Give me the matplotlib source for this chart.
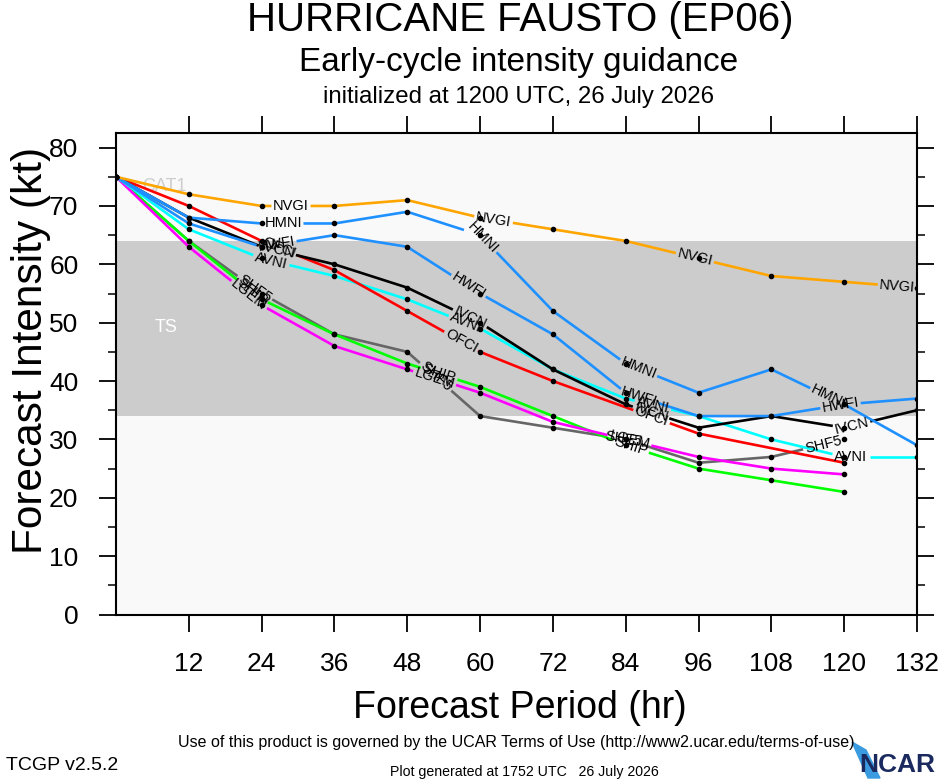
"""
Early-cycle intensity guidance plot (TCGP style)
"""

import numpy as np
import matplotlib
matplotlib.use('Agg')
import matplotlib.pyplot as plt
from matplotlib.patches import Polygon
from matplotlib.textpath import TextPath
from matplotlib.font_manager import FontProperties

plt.rcParams['font.family'] = ['Liberation Sans', 'DejaVu Sans']

# forecast hours
HOURS = [0, 12, 24, 36, 48, 60, 72, 84, 96, 108, 120, 132]
HOURS_120 = [0, 12, 24, 36, 48, 60, 72, 84, 96, 108, 120]
HOURS_OFCI = [0, 12, 24, 36, 48, 60, 72, 96, 120]

# intensities (kt)
NVGI = [75, 72, 70, 70, 71, 68, 66, 64, 61, 58, 57, 56]
HMNI = [75, 68, 67, 67, 69, 65, 52, 43, 38, 42, 36, 29]
HWFI = [75, 67, 63, 65, 63, 55, 48, 38, 34, 34, 36, 37]
IVCN = [75, 68, 63, 60, 56, 50, 42, 36, 32, 34, 32, 35]
AVNI = [75, 66, 61, 58, 54, 49, 42, 37, 34, 30, 27, 27]
OFCI = [75, 70, 64, 59, 52, 45, 40, 31, 26]
SHF5 = [75, 64, 55, 48, 45, 34, 32, 30, 26, 27, 30]
SHIP = [75, 64, 54, 48, 43, 39, 34, 29, 25, 23, 21]
LGEM = [75, 63, 53, 46, 42, 38, 33, 30, 27, 25, 24]

# nome, horas, valores, cor
MODELOS = [
    ('SHF5', HOURS_120, SHF5, '#666666'),
    ('SHIP', HOURS_120, SHIP, '#00ff00'),
    ('LGEM', HOURS_120, LGEM, '#ff00ff'),
    ('AVNI', HOURS, AVNI, '#00ffff'),
    ('OFCI', HOURS_OFCI, OFCI, '#ff0000'),
    ('IVCN', HOURS, IVCN, '#000000'),
    ('HWFI', HOURS, HWFI, '#1e90ff'),
    ('HMNI', HOURS, HMNI, '#1e90ff'),
    ('NVGI', HOURS, NVGI, '#ffa500'),
]

XTICKS = [12, 24, 36, 48, 60, 72, 84, 96, 108, 120, 132]
YTICKS = [0, 10, 20, 30, 40, 50, 60, 70, 80]

LABEL_SIZE = 10.5
LABEL_FIRST = 178   # px ao longo da linha
LABEL_STEP = 205


def desenhar_modelo(ax, nome, hrs, vals, cor):
    """Linha com rotulos embutidos (com lacuna), estilo NCL"""
    pts = ax.transData.transform(np.column_stack([hrs, vals]))
    seg = np.hypot(*np.diff(pts, axis=0).T)
    cum = np.concatenate([[0], np.cumsum(seg)])
    total = cum[-1]

    tp = TextPath((0, 0), nome, size=LABEL_SIZE,
                  prop=FontProperties(family='Liberation Sans'))
    half = tp.get_extents().width * 100 / 72 / 2 + 3

    def ponto(s):
        return np.array([np.interp(s, cum, pts[:, 0]), np.interp(s, cum, pts[:, 1])])

    gaps = []
    s = LABEL_FIRST
    while s + half < total:
        gaps.append((s - half, s + half))
        p = ponto(s)
        i = min(np.searchsorted(cum, s) - 1, len(seg) - 1)
        d = pts[i + 1] - pts[i]
        ang = np.degrees(np.arctan2(d[1], d[0]))
        xd, yd = ax.transData.inverted().transform(p)
        ax.text(xd, yd, nome, fontsize=LABEL_SIZE, rotation=ang, rotation_mode='anchor',
                ha='center', va='center', color='black', zorder=6)
        s += LABEL_STEP

    inicio = 0
    trechos = []
    for a, b in gaps:
        trechos.append((inicio, a))
        inicio = b
    trechos.append((inicio, total))

    inv = ax.transData.inverted()
    for a, b in trechos:
        if b <= a:
            continue
        meio = [p for p, c in zip(pts, cum) if a < c < b]
        peca = np.array([ponto(a)] + meio + [ponto(b)])
        dd = inv.transform(peca)
        ax.plot(dd[:, 0], dd[:, 1], color=cor, lw=1.9, solid_capstyle='butt', zorder=3)

    ax.plot(hrs, vals, 'o', color='black', ms=3, zorder=5)


fig = plt.figure(figsize=(9.4, 7.8), dpi=100)
fig.patch.set_facecolor('white')
ax = fig.add_axes([116 / 940, 1 - 614.5 / 780, 801 / 940, 481.5 / 780])
ax.set_xlim(0, 132)
ax.set_ylim(0, 82.5)
ax.set_facecolor('#f9f9f9')

# faixas de intensidade
ax.axhspan(34, 64, color='#cccccc', lw=0, zorder=0)
ax.text(4.3, 73.4, 'CAT1', color='#cdcdcd', fontsize=13, ha='left', va='center', zorder=1)
ax.text(8.2, 49.2, 'TS', color='white', fontsize=13, ha='center', va='center', zorder=1)

for nome, hrs, vals, cor in MODELOS:
    desenhar_modelo(ax, nome, hrs, vals, cor)

# eixos
for sp in ax.spines.values():
    sp.set_linewidth(1.5)
ax.set_xticks(XTICKS)
ax.set_xticklabels([str(h) for h in XTICKS])
ax.set_yticks(YTICKS)
ax.set_yticks(np.arange(5, 85, 10), minor=True)
ax.tick_params(axis='both', which='major', direction='out', length=12, width=1.3,
               labelsize=19, pad=15, top=True, right=True)
ax.tick_params(axis='y', which='minor', direction='out', length=6, width=1.1, right=True)
ax.tick_params(axis='x', which='minor', bottom=False, top=False)

fig.text(0.033, 1 - 350 / 780, 'Forecast Intensity (kt)', rotation=90,
         fontsize=30.5, ha='center', va='center')
fig.text(0.553, 1 - 708 / 780, 'Forecast Period (hr)', fontsize=27, ha='center', va='center')

# titulos
fig.text(0.553, 1 - 20 / 780, 'HURRICANE FAUSTO (EP06)', fontsize=29, ha='center', va='center')
fig.text(0.552, 1 - 62 / 780, 'Early-cycle intensity guidance', fontsize=24, ha='center', va='center')
fig.text(0.552, 1 - 97 / 780, 'initialized at 1200 UTC, 26 July 2026', fontsize=17.3,
         ha='center', va='center')

# rodape
fig.text(0.549, 1 - 742 / 780,
         'Use of this product is governed by the UCAR Terms of Use (http://www2.ucar.edu/terms-of-use)',
         fontsize=11.5, ha='center', va='center')
fig.text(0.006, 1 - 766 / 780, 'TCGP v2.5.2', fontsize=14, ha='left', va='center')
fig.text(0.558, 1 - 772 / 780, 'Plot generated at 1752 UTC   26 July 2026', fontsize=10.2,
         ha='center', va='center')

# logo NCAR (aproximado)
swoosh = Polygon([(852 / 940, 1 - 742 / 780), (866 / 940, 1 - 750 / 780),
                  (880 / 940, 1 - 778 / 780), (868 / 940, 1 - 778 / 780)],
                 closed=True, transform=fig.transFigure, color='#3a9be0', zorder=1)
fig.patches.append(swoosh)
fig.text(0.995, 1 - 765 / 780, 'NCAR', fontsize=19, fontweight='bold', color='#1b2a5e',
         ha='right', va='center')

fig.savefig('out.png', dpi=100)
